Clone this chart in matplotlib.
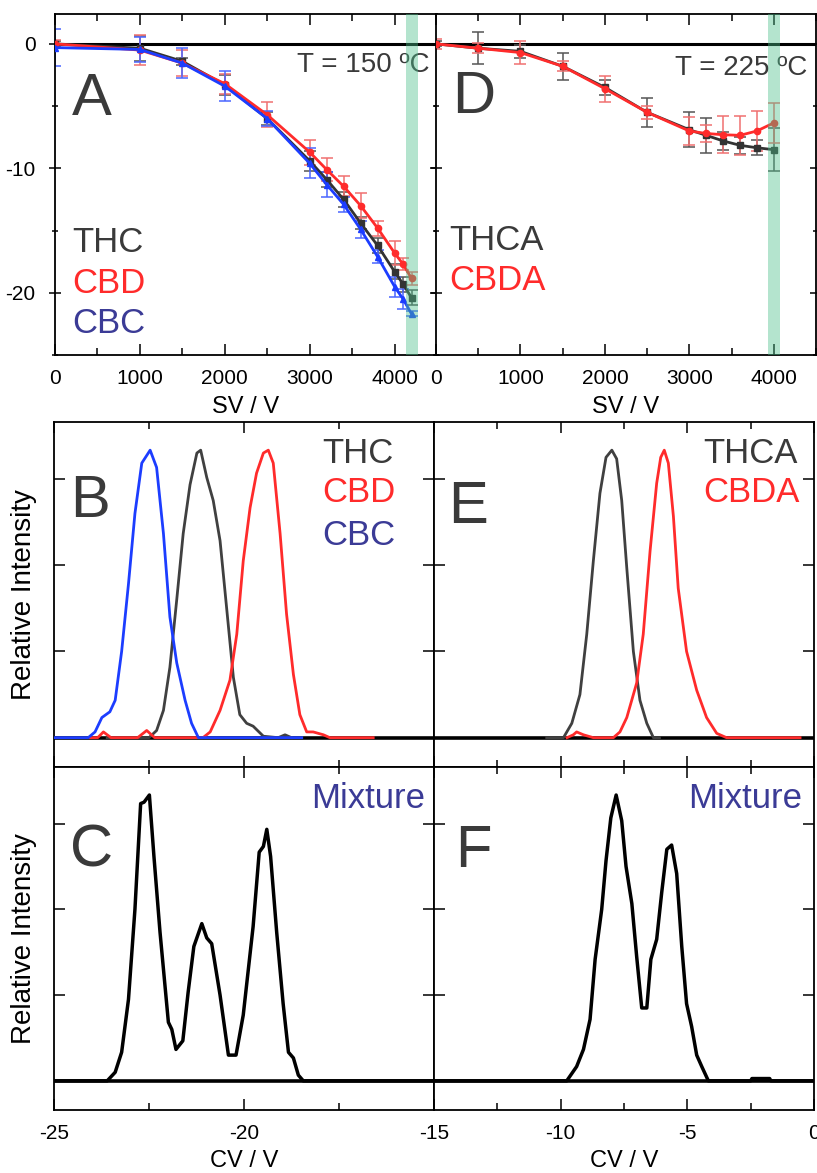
import numpy as np
import matplotlib
matplotlib.use("Agg")
import matplotlib.pyplot as plt
from matplotlib.ticker import MultipleLocator, FixedLocator

plt.rcParams['font.family'] = ['Liberation Sans', 'DejaVu Sans']
plt.rcParams['axes.unicode_minus'] = False

# ---------------- data: panel A (T = 150 C) ----------------
sv_A = [0, 1000, 1500, 2000, 2500, 3000, 3200, 3400, 3600, 3800, 4000, 4100, 4200]
thc_A = [0.0, -0.35, -1.4, -3.3, -6.0, -9.4, -10.9, -12.5, -14.4, -16.2, -18.3, -19.3, -20.4]
thc_A_err = [0.2, 1.0, 0.3, 0.8, 0.5, 0.8, 0.6, 0.6, 0.5, 0.6, 0.6, 0.6, 0.6]
cbd_A = [0.0, -0.5, -1.55, -3.2, -5.7, -8.7, -10.1, -11.45, -13.0, -14.8, -16.8, -17.7, -18.85]
cbd_A_err = [0.3, 1.2, 1.05, 0.8, 1.0, 1.0, 0.9, 0.8, 1.0, 0.6, 1.0, 0.5, 0.5]
cbc_A = [-0.3, -0.45, -1.55, -3.4, -6.0, -9.6, -11.3, -12.9, -14.9, -17.1, -19.5, -20.5, -21.7]
cbc_A_err = [1.5, 1.0, 1.2, 1.2, 0.6, 1.2, 1.0, 0.6, 0.7, 0.5, 0.8, 0.8, 0.2]

# ---------------- data: panel D (T = 225 C) ----------------
sv_D = [0, 500, 1000, 1500, 2000, 2500, 3000, 3200, 3400, 3600, 3800, 4000]
thca_D = [0.0, -0.35, -0.6, -1.8, -3.5, -5.5, -6.9, -7.35, -7.8, -8.15, -8.35, -8.5]
thca_D_err = [0.2, 1.3, 0.5, 1.1, 0.6, 1.15, 1.4, 1.4, 0.7, 0.7, 0.6, 1.7]
cbda_D = [0.0, -0.35, -0.7, -1.8, -3.6, -5.5, -7.0, -7.2, -7.3, -7.35, -7.0, -6.35]
cbda_D_err = [0.4, 0.4, 0.9, 0.4, 1.05, 0.5, 1.1, 0.7, 1.5, 1.55, 1.6, 1.6]

# ---------------- data: panel B (ionograms, 150 C) ----------------
cbc_cv = [-25.0, -24.10, -23.92, -23.74, -23.53, -23.39, -23.22, -23.04, -22.87, -22.69,
          -22.47, -22.30, -22.12, -21.95, -21.77, -21.55, -21.38, -21.20, -18.48]
cbc_I = [0, 0, 0.02, 0.07, 0.09, 0.13, 0.30, 0.535, 0.78, 0.955,
         1.0, 0.94, 0.71, 0.42, 0.26, 0.13, 0.05, 0, 0]
thc_cv = [-23.6, -22.5, -22.30, -22.12, -21.95, -21.77, -21.60, -21.42, -21.24, -21.14,
          -20.98, -20.81, -20.63, -20.46, -20.28, -20.11, -19.93, -19.76, -19.49, -19.1,
          -18.92, -18.75]
thc_I = [0, 0, 0.025, 0.095, 0.245, 0.48, 0.71, 0.88, 0.99, 1.0,
         0.905, 0.825, 0.685, 0.455, 0.21, 0.08, 0.05, 0.04, 0.005, 0,
         0.01, 0]
cbd_cv = [-24.05, -23.85, -23.70, -23.5, -22.8, -22.56, -22.35, -21.08, -20.89, -20.63,
          -20.37, -20.19, -20.02, -19.84, -19.67, -19.49, -19.36, -19.23, -19.05, -18.88,
          -18.70, -18.53, -18.35, -18.18, -17.91, -17.74, -16.6]
cbd_I = [0, 0, 0.02, 0, 0, 0.025, 0, 0, 0.02, 0.095,
         0.20, 0.36, 0.615, 0.80, 0.92, 0.99, 1.0, 0.955, 0.71, 0.43,
         0.22, 0.08, 0.02, 0.02, 0.01, 0, 0]

# ---------------- data: panel C (mixture, 150 C) ----------------
mixC_cv = [-25, -23.6, -23.39, -23.22, -23.04, -22.87, -22.72, -22.63, -22.49, -22.37,
           -22.21, -21.99, -21.90, -21.79, -21.61, -21.47, -21.32, -21.11, -20.98, -20.85,
           -20.63, -20.41, -20.21, -20.02, -19.76, -19.60, -19.49, -19.40, -19.30, -19.14,
           -18.97, -18.83, -18.70, -18.57, -18.44, -15]
mixC_I = [0, 0, 0.03, 0.10, 0.285, 0.60, 0.97, 0.975, 1.0, 0.785,
          0.52, 0.205, 0.18, 0.11, 0.14, 0.31, 0.47, 0.55, 0.50, 0.48,
          0.30, 0.09, 0.09, 0.23, 0.54, 0.80, 0.82, 0.88, 0.785, 0.52,
          0.27, 0.10, 0.08, 0.02, 0, 0]

# ---------------- data: panel E (ionograms, 225 C) ----------------
thca_cv = [-10.55, -9.89, -9.56, -9.24, -8.97, -8.71, -8.45, -8.21, -7.98, -7.79,
           -7.59, -7.39, -7.13, -6.87, -6.60, -6.34, -6.1]
thca_I = [0, 0, 0.05, 0.15, 0.36, 0.615, 0.85, 0.975, 1.0, 0.97,
          0.825, 0.59, 0.30, 0.13, 0.05, 0, 0]
cbda_cv = [-9.75, -9.5, -9.37, -9.1, -8.71, -7.92, -7.66, -7.39, -7.00, -6.74,
           -6.47, -6.21, -6.05, -5.91, -5.75, -5.55, -5.36, -5.03, -4.63, -4.24,
           -3.84, -3.45, -0.55]
cbda_I = [0, 0.01, 0.02, 0.01, 0, 0, 0.02, 0.07, 0.19, 0.36,
          0.65, 0.885, 0.975, 1.0, 0.955, 0.77, 0.52, 0.30, 0.165, 0.07,
          0.015, 0, 0]

# ---------------- data: panel F (mixture, 225 C) ----------------
mixF_cv = [-15, -9.76, -9.37, -9.10, -8.84, -8.64, -8.38, -8.21, -8.02, -7.81,
           -7.59, -7.42, -7.19, -7.00, -6.80, -6.60, -6.44, -6.21, -6.01, -5.81,
           -5.62, -5.42, -5.22, -5.03, -4.83, -4.63, -4.43, -4.17, -2.5, -2.45,
           -1.75, -1.7, 0]
mixF_I = [0, 0, 0.05, 0.11, 0.215, 0.425, 0.60, 0.77, 0.92, 1.0,
          0.91, 0.75, 0.62, 0.435, 0.255, 0.255, 0.425, 0.495, 0.66, 0.81,
          0.825, 0.725, 0.47, 0.27, 0.19, 0.09, 0.05, 0, 0, 0.008,
          0.008, 0, 0]

band_A = (4130, 4280)
band_D = (3930, 4070)

# ---------------- styling ----------------
DARK = '#3a3a3a'
RED = '#ff2b2b'
BLUE = '#1c3dff'
NAVY = '#3b3b96'
GREEN = '#4cc08c'

W, H = 817, 1173
fig = plt.figure(figsize=(W / 100, H / 100), dpi=100)


def axes_px(left, right, top, bottom):
    return fig.add_axes([left / W, 1 - bottom / H, (right - left) / W, (bottom - top) / H])


axA = axes_px(55, 437, 14, 355)
axD = axes_px(436, 816, 14, 355)
axB = axes_px(54, 434, 422, 767)
axE = axes_px(434, 814, 422, 767)
axC = axes_px(54, 434, 767, 1110)
axF = axes_px(434, 814, 767, 1110)

for ax in (axA, axD, axB, axE, axC, axF):
    for s in ax.spines.values():
        s.set_linewidth(1.3)
    ax.tick_params(which='both', direction='in', top=True, right=True,
                   labelsize=15, pad=10, width=1.1)
    ax.tick_params(which='major', length=8)
    ax.tick_params(which='minor', length=5)

# ---------- panel A ----------
axA.axhline(0, color='black', lw=2.2, zorder=1)
for y, e, c, ec, m in ((thc_A, thc_A_err, '#333333', '#555555', 's'),
                       (cbd_A, cbd_A_err, RED, '#f07070', 'o'),
                       (cbc_A, cbc_A_err, BLUE, '#4a66ff', '^')):
    axA.errorbar(sv_A, y, yerr=e, fmt='none', ecolor=ec, elinewidth=1.1,
                 capsize=4.5, capthick=1.1, zorder=2)
    axA.plot(sv_A, y, '-', color=c, lw=2.0, marker=m, ms=4.5, zorder=3)
axA.axvspan(*band_A, color=GREEN, alpha=0.42, lw=0, zorder=4)
axA.set_xlim(0, 4500)
axA.set_ylim(-25, 2.4)
axA.xaxis.set_major_locator(FixedLocator([0, 1000, 2000, 3000, 4000]))
axA.xaxis.set_minor_locator(MultipleLocator(500))
axA.yaxis.set_major_locator(MultipleLocator(10))
axA.yaxis.set_minor_locator(MultipleLocator(5))
axA.tick_params(axis='y', which='both', direction='inout')
axA.set_xlabel('SV / V', fontsize=17, labelpad=6)

axA.text(0.045, 0.704, 'A', transform=axA.transAxes, fontsize=43, color=DARK, va='baseline')
axA.text(0.982, 0.830, 'T = 150 ºC', transform=axA.transAxes, fontsize=20, color=DARK,
         ha='right', va='baseline')
axA.text(0.045, 0.302, 'THC', transform=axA.transAxes, fontsize=25, color=DARK, va='baseline')
axA.text(0.045, 0.182, 'CBD', transform=axA.transAxes, fontsize=25, color=RED, va='baseline')
axA.text(0.045, 0.065, 'CBC', transform=axA.transAxes, fontsize=25, color=NAVY, va='baseline')

# ---------- panel D ----------
axD.axhline(0, color='black', lw=2.2, zorder=1)
for y, e, c, ec, m in ((thca_D, thca_D_err, '#333333', '#555555', 's'),
                       (cbda_D, cbda_D_err, RED, '#f07070', 'o')):
    axD.errorbar(sv_D, y, yerr=e, fmt='none', ecolor=ec, elinewidth=1.1,
                 capsize=4.5, capthick=1.1, zorder=2)
    axD.plot(sv_D, y, '-', color=c, lw=2.0, marker=m, ms=4.5, zorder=3)
axD.axvspan(*band_D, color=GREEN, alpha=0.42, lw=0, zorder=4)
axD.set_xlim(0, 4500)
axD.set_ylim(-25, 2.4)
axD.xaxis.set_major_locator(FixedLocator([0, 1000, 2000, 3000, 4000]))
axD.xaxis.set_minor_locator(MultipleLocator(500))
axD.yaxis.set_major_locator(MultipleLocator(10))
axD.yaxis.set_minor_locator(MultipleLocator(5))
axD.tick_params(axis='y', which='both', direction='inout', labelleft=False)
axD.set_xlabel('SV / V', fontsize=17, labelpad=6)

axD.text(0.042, 0.710, 'D', transform=axD.transAxes, fontsize=43, color=DARK, va='baseline')
axD.text(0.976, 0.821, 'T = 225 ºC', transform=axD.transAxes, fontsize=20, color=DARK,
         ha='right', va='baseline')
axD.text(0.034, 0.308, 'THCA', transform=axD.transAxes, fontsize=25, color=DARK, va='baseline')
axD.text(0.034, 0.191, 'CBDA', transform=axD.transAxes, fontsize=25, color=RED, va='baseline')


# ---------- ionogram panels ----------
def setup_cv(ax, lo, hi, majors, labels):
    ax.set_xlim(lo, hi)
    ax.set_ylim(-0.102, 1.098)
    ax.xaxis.set_major_locator(FixedLocator(majors))
    ax.xaxis.set_minor_locator(MultipleLocator(2.5))
    ax.yaxis.set_major_locator(FixedLocator([0.3, 0.6, 0.9]))
    ax.tick_params(axis='y', labelleft=False)
    if labels is None:
        ax.tick_params(axis='x', labelbottom=False)
    else:
        ax.set_xticklabels(labels)


setup_cv(axB, -25, -15, [-25, -20, -15], None)
axB.axhline(0, color='black', lw=2.6, zorder=1)
axB.plot(thc_cv, thc_I, color='#404040', lw=2.0, zorder=2)
axB.plot(cbd_cv, cbd_I, color=RED, lw=2.0, zorder=3)
axB.plot(cbc_cv, cbc_I, color=BLUE, lw=2.0, zorder=4)
axB.set_ylabel('Relative Intensity', fontsize=20, labelpad=12)
axB.text(0.042, 0.725, 'B', transform=axB.transAxes, fontsize=43, color=DARK, va='baseline')
axB.text(0.705, 0.881, 'THC', transform=axB.transAxes, fontsize=25, color=DARK, va='baseline')
axB.text(0.705, 0.768, 'CBD', transform=axB.transAxes, fontsize=25, color=RED, va='baseline')
axB.text(0.705, 0.643, 'CBC', transform=axB.transAxes, fontsize=25, color=NAVY, va='baseline')

setup_cv(axE, -15, 0, [-15, -10, -5, 0], None)
axE.axhline(0, color='black', lw=2.6, zorder=1)
axE.plot(thca_cv, thca_I, color='#404040', lw=2.0, zorder=2)
axE.plot(cbda_cv, cbda_I, color=RED, lw=2.0, zorder=3)
axE.text(0.037, 0.707, 'E', transform=axE.transAxes, fontsize=43, color=DARK, va='baseline')
axE.text(0.708, 0.881, 'THCA', transform=axE.transAxes, fontsize=25, color=DARK, va='baseline')
axE.text(0.708, 0.768, 'CBDA', transform=axE.transAxes, fontsize=25, color=RED, va='baseline')

setup_cv(axC, -25, -15, [-25, -20, -15], ['-25', '-20', ''])
axC.axhline(0, color='black', lw=2.6, zorder=1)
axC.plot(mixC_cv, mixC_I, color='black', lw=2.5, zorder=2)
axC.set_ylabel('Relative Intensity', fontsize=20, labelpad=12)
axC.set_xlabel('CV / V', fontsize=17, labelpad=5)
axC.text(0.042, 0.711, 'C', transform=axC.transAxes, fontsize=43, color=DARK, va='baseline')
axC.text(0.976, 0.880, 'Mixture', transform=axC.transAxes, fontsize=25, color=NAVY,
         ha='right', va='baseline')

setup_cv(axF, -15, 0, [-15, -10, -5, 0], ['-15', '-10', '-5', '0'])
axF.axhline(0, color='black', lw=2.6, zorder=1)
axF.plot(mixF_cv, mixF_I, color='black', lw=2.5, zorder=2)
axF.set_xlabel('CV / V', fontsize=17, labelpad=5)
axF.text(0.055, 0.708, 'F', transform=axF.transAxes, fontsize=43, color=DARK, va='baseline')
axF.text(0.968, 0.880, 'Mixture', transform=axF.transAxes, fontsize=25, color=NAVY,
         ha='right', va='baseline')

fig.savefig('out.png', dpi=100)
